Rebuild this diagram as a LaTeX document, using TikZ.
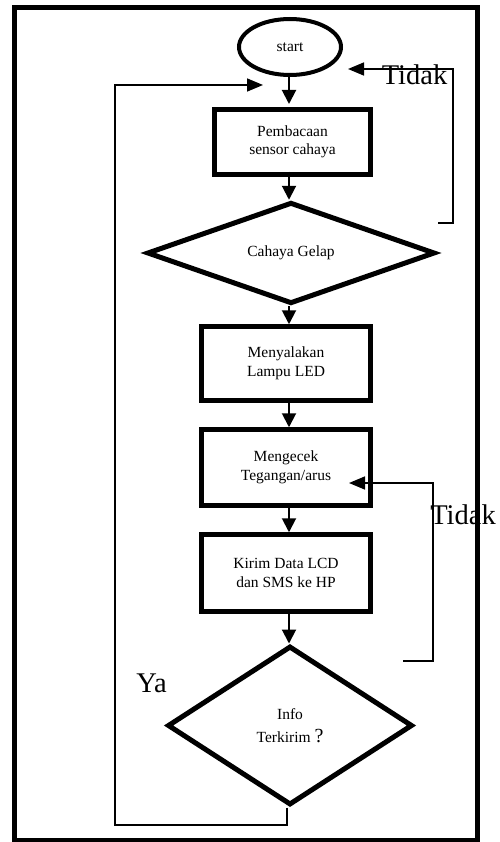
\documentclass[tikz,border=0pt]{standalone}
\usepackage{fontspec}
\setmainfont{Liberation Serif}
\usetikzlibrary{shapes.geometric,arrows.meta}
\begin{document}
\begin{tikzpicture}[x=1pt,y=-1pt,
  every node/.style={font=\fontsize{15.5}{18.5}\selectfont, align=center, inner sep=0pt},
  procbox/.style={draw, rectangle, line width=4.5pt, minimum width=169pt, minimum height=76pt},
  decision/.style={draw, diamond, line width=5pt, aspect=1},
  flow/.style={line width=2pt, -{Triangle[length=14pt,width=14pt]}},
  loopline/.style={line width=1.6pt},
  looparrow/.style={line width=1.6pt, -{Triangle[length=16pt,width=13pt]}},
  biglabel/.style={font=\fontsize{28.5}{30}\selectfont, anchor=base, inner sep=0pt}
]
\useasboundingbox (0,0) rectangle (499,842);
\draw[line width=5pt] (14.2,7.5) rectangle (477.7,840.5);

\node[draw, ellipse, line width=4pt, minimum width=102pt, minimum height=56pt] (start) at (290,47) {start};
\node[procbox, minimum width=156pt, minimum height=65pt] (b1) at (292.5,142) {Pembacaan\\sensor cahaya};
\node[decision, minimum width=288pt, minimum height=84pt] (d1) at (291,253) {Cahaya Gelap};
\node[procbox, minimum height=74pt] (b2) at (286,363.5) {Menyalakan\\Lampu LED};
\node[procbox, minimum height=76pt] (b3) at (286,467.5) {Mengecek\\Tegangan/arus};
\node[procbox, minimum height=77pt] (b4) at (286,573) {Kirim Data LCD\\dan SMS ke HP};
\node[decision, minimum width=245pt, minimum height=159pt] (d2) at (290,725.5) {Info\\[4pt]Terkirim {\fontsize{20}{20}\selectfont ?}};

% main flow
\coordinate (s0) at (289,77);
\coordinate (s1) at (289,104);
\draw[flow] (s0) -- (s1);
\draw[flow] ([yshift=5pt]b1.south -| s0) -- (d1.north -| s0);
\draw[flow] (d1.south -| s0) -- (b2.north -| s0);
\draw[flow] (b2.south -| s0) -- (b3.north -| s0);
\draw[flow] (b3.south -| s0) -- (b4.north -| s0);
\draw[flow] ([yshift=3pt]b4.south -| s0) -- (d2.north -| s0);

% upper Tidak loop
\coordinate (t1a) at (438,223);
\coordinate (t1b) at (453,223);
\coordinate (t1c) at (453,69);
\coordinate (t1d) at (348,69);
\node[biglabel] (tidak1) at (414.5,85) {Tidak};
\draw[looparrow] (t1a) -- (t1b) -- (t1c) -- (t1d);

% lower Tidak loop
\coordinate (t2a) at (403,661);
\coordinate (t2b) at (433,661);
\coordinate (t2c) at (433,483);
\coordinate (t2d) at (349,483);
\node[biglabel] (tidak2) at (463,524) {Tidak};
\draw[looparrow] (t2a) -- (t2b) -- (t2c) -- (t2d);

% Ya loop
\coordinate (y1) at (287,825);
\coordinate (y2) at (115,825);
\coordinate (y3) at (115,85);
\coordinate (y4) at (263,85);
\draw[looparrow] (d2.south -| y1) -- (y1) -- (y2) -- (y3) -- (y4);
\node[biglabel] (ya) at (151.5,692.5) {Ya};
\end{tikzpicture}
\end{document}
